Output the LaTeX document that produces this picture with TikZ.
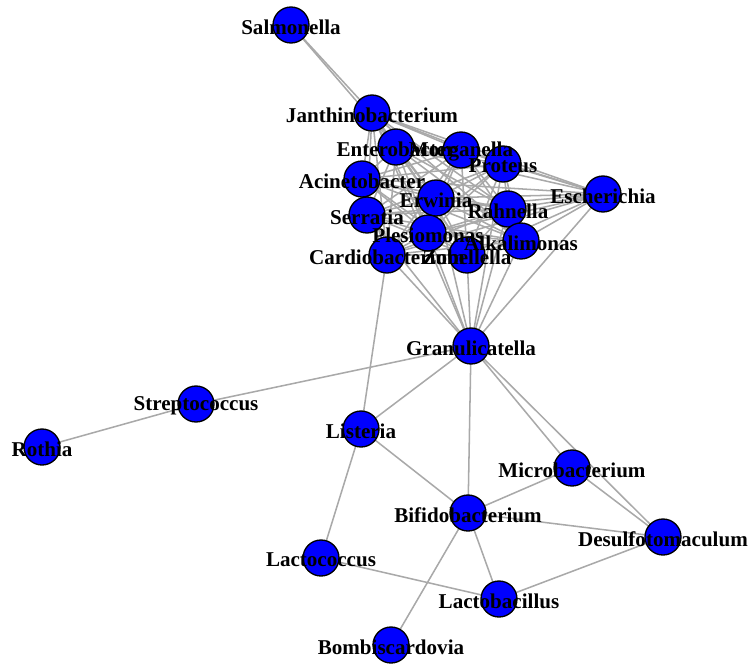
\documentclass[tikz,border=0pt]{standalone}
\usepackage{fontspec}
\setmainfont{Liberation Serif}
\definecolor{edgegray}{RGB}{169,169,169}
\definecolor{vblue}{RGB}{0,0,255}
\begin{document}
\begin{tikzpicture}[x=0.75pt,y=-0.75pt,
  vert/.style={circle,draw=black,line width=1pt,fill=vblue,minimum size=27pt,inner sep=0pt},
  vlabel/.style={font=\bfseries\fontsize{15.8}{18}\selectfont,inner sep=0pt,text=black,yshift=-1.5pt},
  link/.style={draw=edgegray,line width=1.15pt}]
\useasboundingbox (0,0) rectangle (751,665);

% vertex positions
\foreach \n/\x/\y in {
  Salmonella/291/25, Janthinobacterium/372/113, Enterobacter/396/147,
  Morganella/461/150, Proteus/503/164, Escherichia/603/194,
  Acinetobacter/362/179, Erwinia/436/198, Rahnella/508/209,
  Serratia/367/215, Plesiomonas/428/233, Alkalimonas/521/241,
  Cardiobacterium/387/255, Zobellella/467/255, Granulicatella/471/346,
  Streptococcus/196/404, Rothia/42/447, Listeria/361/429,
  Microbacterium/572/468, Bifidobacterium/468/513, Desulfotomaculum/663/537,
  Lactococcus/321/558, Lactobacillus/499/599, Bombiscardovia/391/645}
  \coordinate (\n) at (\x,\y);

% edges
% dense cluster: every pair connected
\foreach \a [count=\i] in {Janthinobacterium,Enterobacter,Morganella,Proteus,Escherichia,
   Acinetobacter,Erwinia,Rahnella,Serratia,Plesiomonas,Alkalimonas,Cardiobacterium,Zobellella}{
  \foreach \b [count=\j] in {Janthinobacterium,Enterobacter,Morganella,Proteus,Escherichia,
     Acinetobacter,Erwinia,Rahnella,Serratia,Plesiomonas,Alkalimonas,Cardiobacterium,Zobellella}{
    \ifnum\i<\j \draw[link] (\a) -- (\b); \fi
  }
}
\foreach \a/\b in {
  Salmonella/Janthinobacterium, Salmonella/Enterobacter,
  Granulicatella/Cardiobacterium, Granulicatella/Serratia, Granulicatella/Plesiomonas,
  Granulicatella/Janthinobacterium, Granulicatella/Erwinia, Granulicatella/Zobellella,
  Granulicatella/Proteus, Granulicatella/Rahnella, Granulicatella/Alkalimonas,
  Granulicatella/Escherichia,
  Granulicatella/Streptococcus, Streptococcus/Rothia,
  Granulicatella/Listeria, Granulicatella/Bifidobacterium,
  Granulicatella/Microbacterium, Granulicatella/Desulfotomaculum,
  Cardiobacterium/Listeria, Listeria/Bifidobacterium, Listeria/Lactococcus,
  Bifidobacterium/Microbacterium, Bifidobacterium/Desulfotomaculum,
  Bifidobacterium/Lactobacillus, Bifidobacterium/Bombiscardovia,
  Microbacterium/Desulfotomaculum, Lactococcus/Lactobacillus,
  Lactobacillus/Desulfotomaculum}
  \draw[link] (\a) -- (\b);

% vertices
\foreach \n in {Salmonella,Janthinobacterium,Enterobacter,Morganella,Proteus,Escherichia,
  Acinetobacter,Erwinia,Rahnella,Serratia,Plesiomonas,Alkalimonas,Cardiobacterium,
  Zobellella,Granulicatella,Streptococcus,Rothia,Listeria,Microbacterium,
  Bifidobacterium,Desulfotomaculum,Lactococcus,Lactobacillus,Bombiscardovia}
  \node[vert] (v-\n) at (\n) {};

% labels on top of the vertices
\foreach \n in {Salmonella,Janthinobacterium,Enterobacter,Morganella,Proteus,Escherichia,
  Acinetobacter,Erwinia,Rahnella,Serratia,Plesiomonas,Alkalimonas,Cardiobacterium,
  Zobellella,Granulicatella,Streptococcus,Rothia,Listeria,Microbacterium,
  Bifidobacterium,Desulfotomaculum,Lactococcus,Lactobacillus,Bombiscardovia}
  \node[vlabel] (l-\n) at (\n) {\n};
\end{tikzpicture}
\end{document}
